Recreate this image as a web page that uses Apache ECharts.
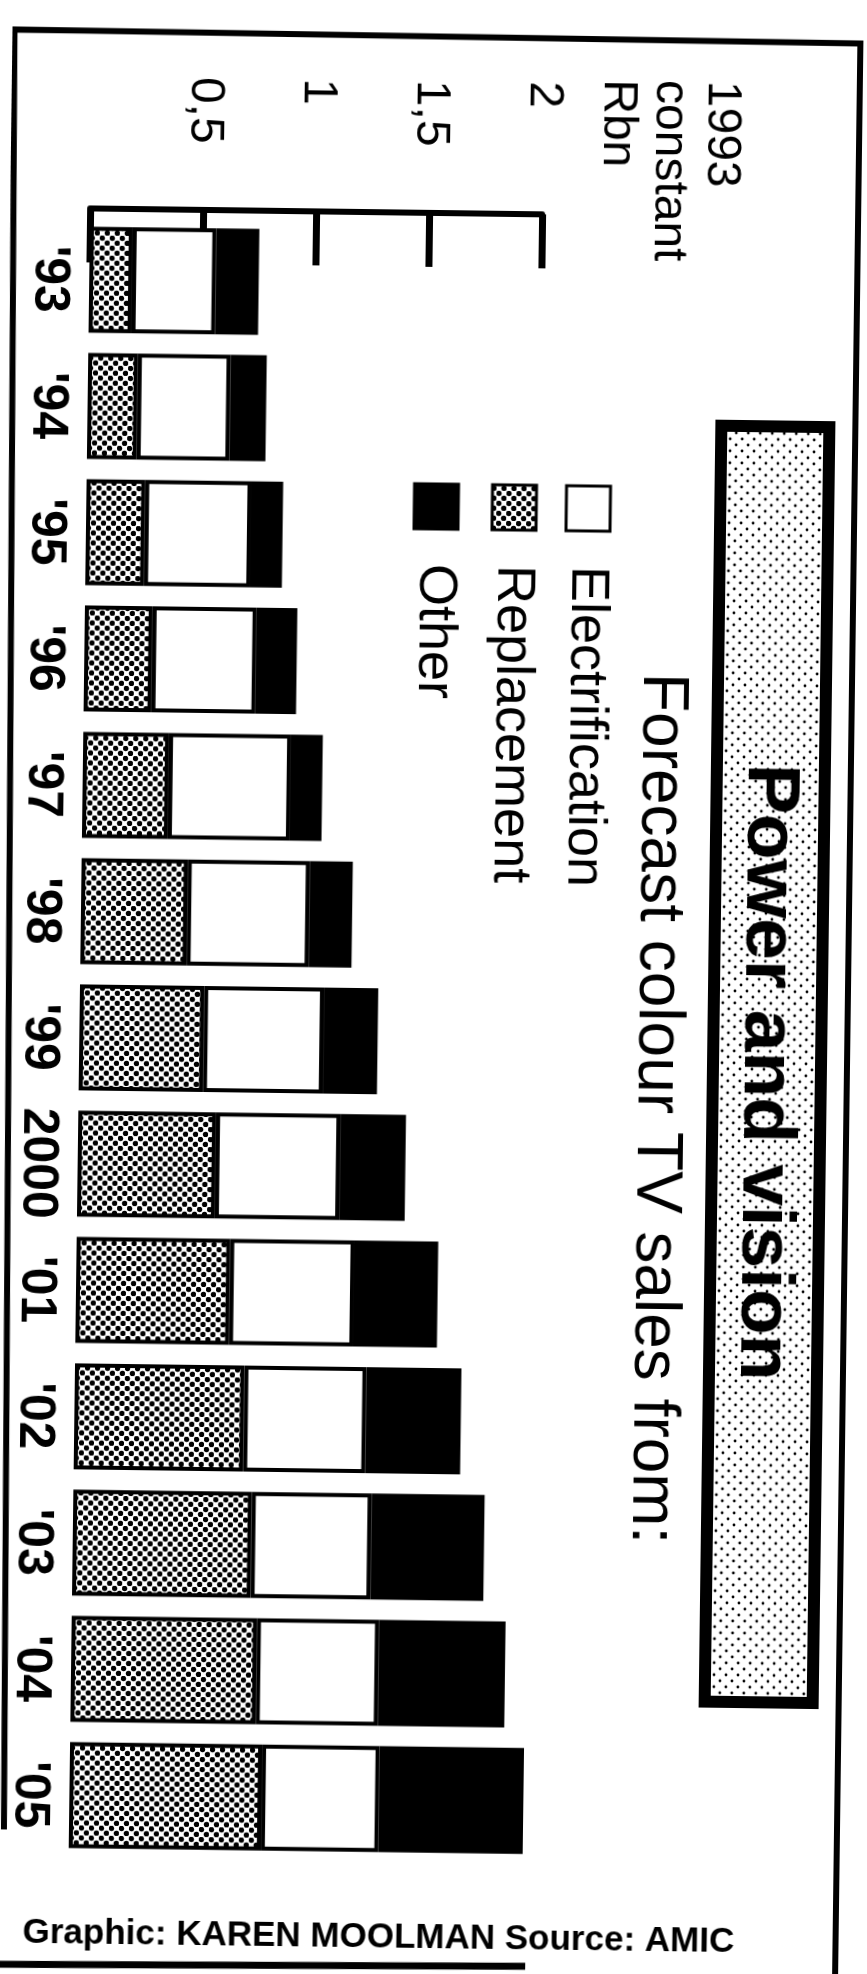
<!DOCTYPE html>
<html>
<head>
<meta charset="utf-8">
<script src="https://cdn.jsdelivr.net/npm/echarts@6/dist/echarts.min.js"></script>
<style>
  html, body { margin: 0; padding: 0; background: #fff; overflow: hidden; }
  /* the printed page sits slightly askew */
  #chart { width: 867px; height: 1974px; transform: rotate(0.75deg); transform-origin: 433.5px 987px; }
</style>
</head>
<body>
<div id="chart"></div>
<script>
// Forecast colour TV sales, 1993 constant Rbn, by source of demand
const years = ["'93", "'94", "'95", "'96", "'97", "'98", "'99", "2000", "'01", "'02", "'03", "'04", "'05"];
const replacement     = [0.19, 0.22, 0.26, 0.30, 0.38, 0.47, 0.55, 0.61, 0.68, 0.75, 0.79, 0.82, 0.85];
const electrification = [0.37, 0.41, 0.47, 0.46, 0.54, 0.54, 0.53, 0.55, 0.55, 0.54, 0.53, 0.54, 0.52];
const other           = [0.19, 0.16, 0.14, 0.18, 0.14, 0.19, 0.24, 0.29, 0.37, 0.42, 0.50, 0.56, 0.65];

const tickValues = [0.5, 1, 1.5, 2];
const tickLabels = ['0,5', '1', '1,5', '2'];
const unitLines = ['1993', 'constant', 'Rbn'];
const titleText = 'Power and vision';
const subtitleText = 'Forecast colour TV sales from:';
const legendNames = ['Electrification', 'Replacement', 'Other'];
const creditText = 'Graphic: KAREN MOOLMAN Source: AMIC';

const FONT = '"Liberation Sans", Arial, Helvetica, sans-serif';
const ROT = -Math.PI / 2; // text reads top to bottom

// small dot tiles used as halftone fills
function dotTile(size, dots, r) {
  const c = document.createElement('canvas');
  c.width = size; c.height = size;
  const g = c.getContext('2d');
  g.fillStyle = '#fff';
  g.fillRect(0, 0, size, size);
  g.fillStyle = '#000';
  dots.forEach(([x, y]) => { g.beginPath(); g.arc(x, y, r, 0, Math.PI * 2); g.fill(); });
  return c;
}
const stipple = dotTile(10, [[2.5, 2.5], [7.5, 7.5]], 2.7);
const lightStipple = dotTile(12, [[3, 3], [9, 9]], 1.4);

const fills = {
  Replacement: { image: stipple, repeat: 'repeat' },
  Electrification: '#ffffff',
  Other: '#000000'
};
const seriesData = { Replacement: replacement, Electrification: electrification, Other: other };

const chart = echarts.init(document.getElementById('chart'), null, { renderer: 'canvas' });

chart.setOption({
  animation: false,
  backgroundColor: '#fff',
  grid: { left: 80, right: 335, top: 221, bottom: 111, containLabel: false, outerBoundsMode: 'none' },
  xAxis: {
    type: 'value', position: 'top', min: 0, max: 2, interval: 0.5, offset: 8,
    axisLine: { show: true, lineStyle: { color: '#000', width: 6 } },
    axisTick: { show: true, inside: true, length: 54, lineStyle: { color: '#000', width: 7 } },
    splitLine: { show: false },
    axisLabel: { show: false }
  },
  yAxis: {
    type: 'category', data: years, inverse: true,
    axisLine: { show: false }, axisTick: { show: false },
    axisLabel: {
      interval: 0, rotate: -90, margin: 15, align: 'center', verticalAlign: 'top',
      fontSize: 50, fontWeight: 'bold', fontFamily: FONT, color: '#000'
    }
  },
  series: ['Replacement', 'Electrification', 'Other'].map(name => ({
    name, type: 'bar', stack: 'sales', barWidth: 106,
    data: seriesData[name],
    itemStyle: { color: fills[name], borderColor: '#000', borderWidth: 4 },
    emphasis: { disabled: true }
  }))
});

// value-axis tick labels, set from the top edge and centred on each tick
const tickLabelGraphics = tickValues.map((v, i) => ({
  type: 'text', x: chart.convertToPixel({ xAxisIndex: 0 }, v), y: 80, rotation: ROT,
  style: { text: tickLabels[i], font: '48px ' + FONT, fill: '#000', align: 'left', verticalAlign: 'middle' }
}));

// legend rows: swatch + label, first row furthest right
const legendCentres = [582, 508, 430];
const legendGraphics = [];
legendNames.forEach((name, i) => {
  const cx = legendCentres[i];
  legendGraphics.push({
    type: 'rect', shape: { x: cx - 22, y: 484, width: 44, height: 45 },
    style: { fill: fills[name], stroke: '#000', lineWidth: 3 }
  });
  legendGraphics.push({
    type: 'text', x: cx, y: 564, rotation: ROT,
    style: { text: name, font: '54px ' + FONT, fill: '#000', align: 'left', verticalAlign: 'middle' }
  });
});

chart.setOption({
  graphic: [
    // outer frame
    { type: 'polyline', shape: { points: [[15, 1835], [2, 35], [848, 38], [848, 1980]] },
      style: { stroke: '#000', lineWidth: 6, fill: null } },
    { type: 'line', shape: { x1: 0, y1: 1970, x2: 538, y2: 1965 },
      style: { stroke: '#000', lineWidth: 7 } },
    // title panel
    { type: 'rect', shape: { x: 714, y: 422, width: 108, height: 1276 },
      style: { fill: { image: lightStipple, repeat: 'repeat' }, stroke: '#000', lineWidth: 12 } },
    { type: 'text', x: 767, y: 1068, rotation: ROT,
      style: { text: titleText, font: 'bold 75px ' + FONT, fill: '#000', align: 'center', verticalAlign: 'middle' } },
    // subtitle
    { type: 'text', x: 658, y: 670, rotation: ROT,
      style: { text: subtitleText, font: '64px ' + FONT, fill: '#000', align: 'left', verticalAlign: 'middle' } },
    // unit note beside the value axis
    { type: 'text', x: 736, y: 77, rotation: ROT,
      style: { text: unitLines.join('\n'), font: '48px ' + FONT, lineHeight: 52, fill: '#000', align: 'left', verticalAlign: 'top' } },
    ...tickLabelGraphics,
    ...legendGraphics,
    // credit line
    { type: 'text', x: 35, y: 1938,
      style: { text: creditText, font: 'bold 35px ' + FONT, fill: '#000', align: 'left', verticalAlign: 'middle' } }
  ]
});
</script>
</body>
</html>
